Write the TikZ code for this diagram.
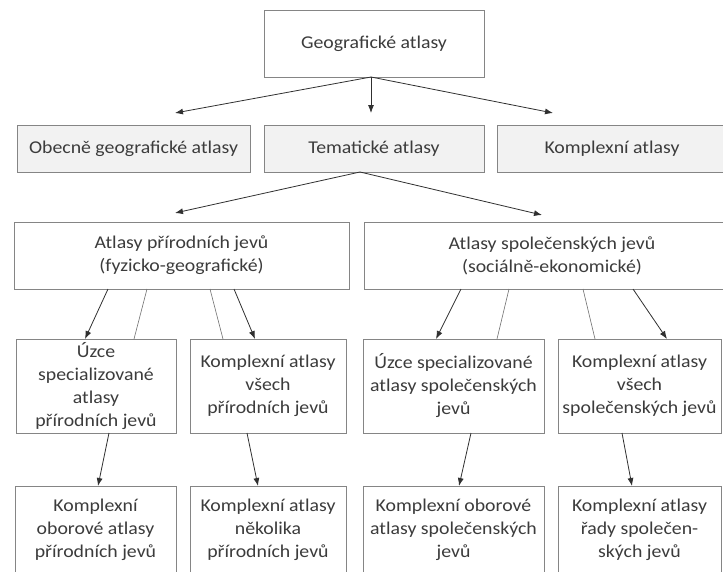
\documentclass[tikz,border=0pt]{standalone}
\usepackage{fontspec}
\setmainfont{Carlito}[FakeStretch=1.1]
\usetikzlibrary{arrows.meta}
\definecolor{txt}{HTML}{3C3C3C}
\definecolor{bord}{HTML}{858585}
\definecolor{fillg}{HTML}{F2F2F2}
\definecolor{arr}{HTML}{303030}
\definecolor{thinln}{HTML}{707070}
\begin{document}
\begin{tikzpicture}[x=1pt,y=-1pt,
  box/.style={draw=bord, line width=0.9pt, inner sep=0pt, outer sep=0pt, align=center,
    text=txt, font=\fontsize{18}{23}\selectfont},
  graybox/.style={box, fill=fillg},
  arrowc/.style={draw=arr, line width=0.8pt, -{Latex[length=8pt,width=6pt]}},
  plainln/.style={draw=thinln, line width=0.6pt}]
\useasboundingbox (0,0) rectangle (723,571);
\clip (0,0) rectangle (723,571);
\fill[white] (0,0) rectangle (723,571);
% row 1
\node[box, minimum width=220pt, minimum height=67pt] (geo) at (374,43.5) {Geografické atlasy};
% row 2
\node[graybox, minimum width=233pt, minimum height=47pt] (obec) at (133.5,148.5) {Obecně geografické atlasy};
\node[graybox, minimum width=220pt, minimum height=47pt] (tem) at (374,148.5) {Tematické atlasy};
\node[graybox, minimum width=243pt, minimum height=47pt] (kompl) at (618.5,148.5) {\hspace*{-13pt}Komplexní atlasy};
% row 3
\node[box, minimum width=335pt, minimum height=67pt] (nat) at (181.5,255.5) {Atlasy přírodních jevů\\(fyzicko-geografické)};
\node[box, minimum width=376pt, minimum height=67pt] (soc) at (552,255.5) {Atlasy společenských jevů\\(sociálně-ekonomické)};
% row 4
\node[box, minimum width=160pt, minimum height=94pt] (b1) at (96,386) {Úzce\\specializované\\atlasy\\přírodních jevů};
\node[box, minimum width=156pt, minimum height=94pt] (b2) at (268,386) {Komplexní atlasy\\všech\\přírodních jevů};
\node[box, minimum width=181pt, minimum height=94pt] (b3) at (453.5,386) {Úzce specializované\\atlasy společenských\\jevů};
\node[box, minimum width=163pt, minimum height=94pt] (b4) at (639.5,386) {Komplexní atlasy\\všech\\společenských jevů};
% row 5
\node[box, minimum width=161pt, minimum height=88pt] (c1) at (95.5,530) {Komplexní\\oborové atlasy\\přírodních jevů};
\node[box, minimum width=156pt, minimum height=88pt] (c2) at (268,530) {Komplexní atlasy\\několika\\přírodních jevů};
\node[box, minimum width=181pt, minimum height=88pt] (c3) at (453.5,530) {Komplexní oborové\\atlasy společenských\\jevů};
\node[box, minimum width=163pt, minimum height=88pt] (c4) at (639.5,530) {Komplexní atlasy\\řady společen-\\ských jevů};
% connectors row 1 -> row 2
\draw[arrowc] ([xshift=107pt]geo.south west) -- ([xshift=158pt,yshift=12pt]obec.north west);
\draw[arrowc] ([xshift=107pt]geo.south west) -- ([xshift=107pt,yshift=12pt]tem.north west);
\draw[arrowc] ([xshift=107pt]geo.south west) -- ([xshift=56pt,yshift=12pt]kompl.north west);
% row 2 -> row 3
\draw[arrowc] ([xshift=96pt]tem.south west) -- ([xshift=161pt,yshift=9pt]nat.north west);
\draw[arrowc] ([xshift=96pt]tem.south west) -- ([xshift=178pt,yshift=7pt]soc.north west);
% row 3 -> row 4
\draw[arrowc] ([xshift=94pt]nat.south west) -- ([xshift=69pt]b1.north west);
\draw[plainln] ([xshift=133pt]nat.south west) -- ([xshift=118pt]b1.north west);
\draw[plainln] ([xshift=196pt]nat.south west) -- ([xshift=33pt]b2.north west);
\draw[arrowc] ([xshift=220pt]nat.south west) -- ([xshift=65pt]b2.north west);
\draw[arrowc] ([xshift=97pt]soc.south west) -- ([xshift=73pt]b3.north west);
\draw[plainln] ([xshift=145pt]soc.south west) -- ([xshift=134pt]b3.north west);
\draw[plainln] ([xshift=219pt]soc.south west) -- ([xshift=37pt]b4.north west);
\draw[arrowc] ([xshift=269pt]soc.south west) -- ([xshift=109pt]b4.north west);
% row 4 -> row 5
\draw[arrowc] ([xshift=93pt]b1.south west) -- ([xshift=83pt]c1.north west);
\draw[arrowc] ([xshift=57pt]b2.south west) -- ([xshift=68pt]c2.north west);
\draw[arrowc] ([xshift=108pt]b3.south west) -- ([xshift=96pt]c3.north west);
\draw[arrowc] ([xshift=64pt]b4.south west) -- ([xshift=74pt]c4.north west);
\end{tikzpicture}
\end{document}
